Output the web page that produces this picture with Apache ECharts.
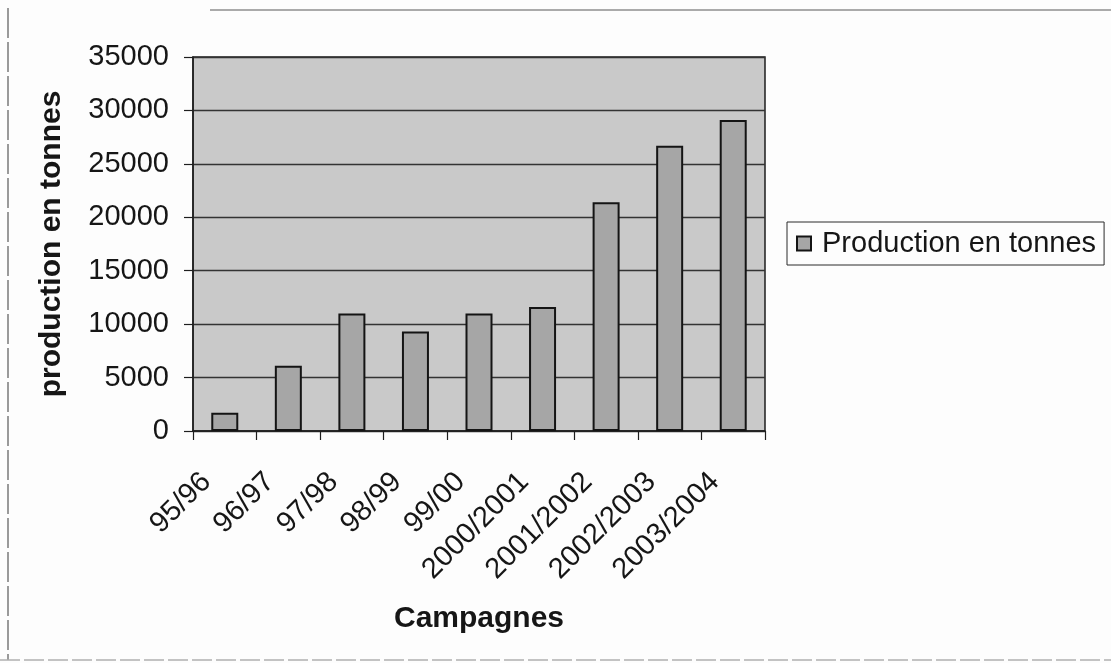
<!DOCTYPE html>
<html>
<head>
<meta charset="utf-8">
<title>Production en tonnes par campagne</title>
<script src="https://cdn.jsdelivr.net/npm/echarts@6/dist/echarts.min.js"></script>
<style>
  html, body { margin: 0; padding: 0; background: #fff; }
  #chart { width: 1111px; height: 663px; }
</style>
</head>
<body>
<div id="chart"></div>
<script>
// Campaign seasons and production (tonnes)
const campagnes = ['95/96', '96/97', '97/98', '98/99', '99/00', '2000/2001', '2001/2002', '2002/2003', '2003/2004'];
const production = [1700, 6100, 11000, 9300, 11000, 11600, 21400, 26700, 29100];
const seriesName = 'Production en tonnes';
const yAxisTitle = 'production en tonnes';
const xAxisTitle = 'Campagnes';

const FONT = '"Liberation Sans", Arial, sans-serif';
const INK = '#161616';

const chart = echarts.init(document.getElementById('chart'), null, { renderer: 'canvas' });

chart.setOption({
  animation: false,
  backgroundColor: '#fdfdfd',
  textStyle: { fontFamily: FONT, color: INK },
  graphic: [
    // page frame around the chart object
    { type: 'line', shape: { x1: 8, y1: 8, x2: 8, y2: 660 }, style: { stroke: '#7a7a7a', lineWidth: 1.5, lineDash: [30, 4] }, silent: true },
    { type: 'line', shape: { x1: 210, y1: 10, x2: 1111, y2: 10 }, style: { stroke: '#8e8e8e', lineWidth: 1.5 }, silent: true },
    { type: 'line', shape: { x1: 0, y1: 660, x2: 1111, y2: 660 }, style: { stroke: '#b0b0b0', lineWidth: 1.5, lineDash: [20, 4] }, silent: true }
  ],
  grid: {
    left: 193, top: 57, right: 346, bottom: 232,
    show: true,
    backgroundColor: '#c9c9c9',
    borderColor: '#1e1e1e',
    borderWidth: 1.5
  },
  legend: {
    show: true,
    left: 787, top: 222,
    orient: 'vertical',
    padding: [5, 8, 5, 9],
    borderColor: '#2a2a2a',
    borderWidth: 1,
    backgroundColor: '#fdfdfd',
    itemWidth: 14, itemHeight: 14,
    itemGap: 0,
    icon: 'rect',
    textStyle: { fontFamily: FONT, fontSize: 29, color: INK, lineHeight: 33, padding: [0, 0, 0, 6] },
    data: [seriesName]
  },
  xAxis: {
    type: 'category',
    data: campagnes,
    boundaryGap: true,
    name: xAxisTitle,
    nameLocation: 'middle',
    nameGap: 173,
    nameTextStyle: { fontFamily: FONT, fontSize: 30, fontWeight: 'bold', color: INK },
    axisLine: { show: true, lineStyle: { color: '#1e1e1e', width: 1.5 } },
    axisTick: { show: true, length: 9, interval: 0, lineStyle: { color: '#1e1e1e', width: 1.2 } },
    axisLabel: { interval: 0, rotate: 45, margin: 28, padding: [0, 26, 0, 0], fontFamily: FONT, fontSize: 29, color: INK },
    splitLine: { show: false }
  },
  yAxis: {
    type: 'value',
    min: 0, max: 35000, interval: 5000,
    name: yAxisTitle,
    nameLocation: 'middle',
    nameRotate: 90,
    nameGap: 126,
    nameTextStyle: { fontFamily: FONT, fontSize: 30, fontWeight: 'bold', color: INK },
    axisLine: { show: true, lineStyle: { color: '#1e1e1e', width: 1.5 } },
    axisTick: { show: true, length: 9, lineStyle: { color: '#1e1e1e', width: 1.2 } },
    axisLabel: { margin: 24, fontFamily: FONT, fontSize: 29, color: INK, formatter: (v) => String(v) },
    splitLine: { show: true, lineStyle: { color: '#333333', width: 1.3 } }
  },
  series: [{
    name: seriesName,
    type: 'bar',
    data: production,
    barWidth: 27,
    itemStyle: { color: '#a6a6a6', borderColor: '#141414', borderWidth: 2 }
  }]
});
</script>
</body>
</html>
